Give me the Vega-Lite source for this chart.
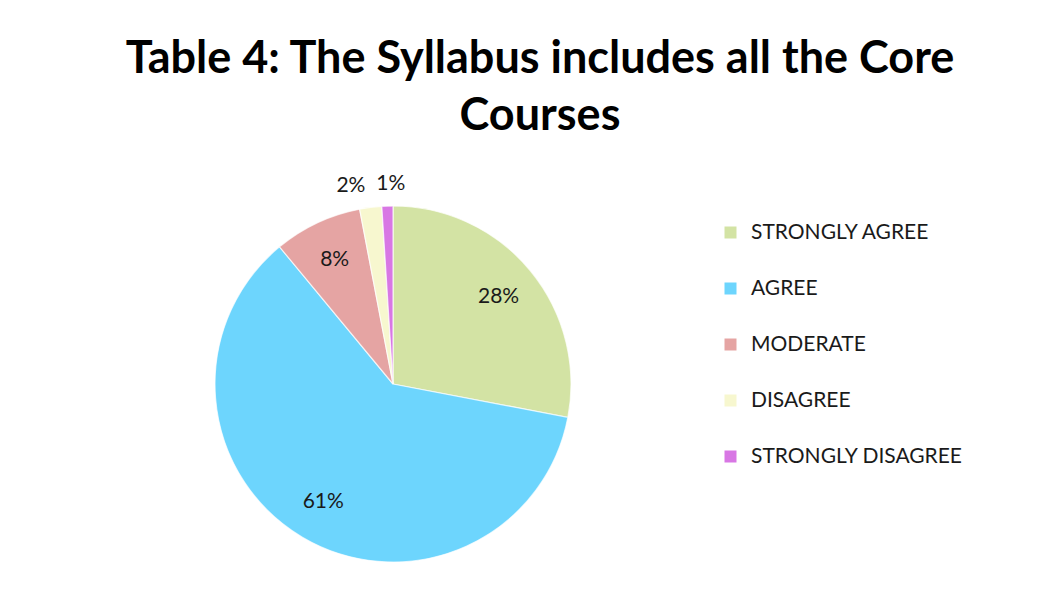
{
  "$schema": "https://vega.github.io/schema/vega-lite/v6.json",
  "autosize": "none",
  "width": 356,
  "height": 356,
  "padding": {"left": 215, "top": 206, "right": 489, "bottom": 49},
  "background": "white",
  "title": {
    "text": ["Table 4: The Syllabus includes all the Core", "Courses"],
    "font": "Lato",
    "fontSize": 45,
    "fontWeight": "bold",
    "color": "#000000",
    "anchor": "middle",
    "dx": 147,
    "offset": 34,
    "lineHeight": 57
  },
  "data": {
    "values": [
      {"idx": 1, "category": "STRONGLY AGREE", "value": 28, "label": "28%"},
      {"idx": 2, "category": "AGREE", "value": 61, "label": "61%"},
      {"idx": 3, "category": "MODERATE", "value": 8, "label": "8%"},
      {"idx": 4, "category": "DISAGREE", "value": 2, "label": "2%"},
      {"idx": 5, "category": "STRONGLY DISAGREE", "value": 1, "label": "1%"}
    ]
  },
  "encoding": {
    "theta": {"field": "value", "type": "quantitative", "stack": true},
    "order": {"field": "idx", "type": "quantitative"}
  },
  "layer": [
    {
      "mark": {"type": "arc", "outerRadius": 178, "stroke": "#ffffff", "strokeWidth": 1.2, "strokeOpacity": 0.7},
      "encoding": {
        "color": {
          "field": "category",
          "type": "nominal",
          "scale": {
            "domain": ["STRONGLY AGREE", "AGREE", "MODERATE", "DISAGREE", "STRONGLY DISAGREE"],
            "range": ["#d3e3a4", "#6dd5fd", "#e5a4a3", "#f7f7cf", "#d877e4"]
          },
          "legend": {
            "title": null,
            "orient": "none",
            "legendX": 505,
            "legendY": 16,
            "symbolType": "square",
            "symbolSize": 144,
            "symbolStrokeWidth": 0,
            "symbolOpacity": 1,
            "labelFont": "Lato",
            "labelFontSize": 21,
            "labelColor": "#1a1a1a",
            "labelOffset": 10,
            "rowPadding": 34,
            "labelLimit": 400
          }
        }
      }
    },
    {
      "mark": {"type": "text", "radius": 137, "font": "Lato", "fontSize": 21, "color": "#1a1a1a"},
      "encoding": {
        "text": {"condition": {"test": "datum.value >= 5", "field": "label"}, "value": ""}
      }
    },
    {
      "mark": {"type": "text", "radius": 200, "dx": -17, "font": "Lato", "fontSize": 21, "color": "#1a1a1a"},
      "encoding": {
        "text": {"condition": {"test": "datum.category === 'DISAGREE'", "field": "label"}, "value": ""}
      }
    },
    {
      "mark": {"type": "text", "radius": 200, "dx": 4, "font": "Lato", "fontSize": 21, "color": "#1a1a1a"},
      "encoding": {
        "text": {"condition": {"test": "datum.category === 'STRONGLY DISAGREE'", "field": "label"}, "value": ""}
      }
    }
  ]
}
